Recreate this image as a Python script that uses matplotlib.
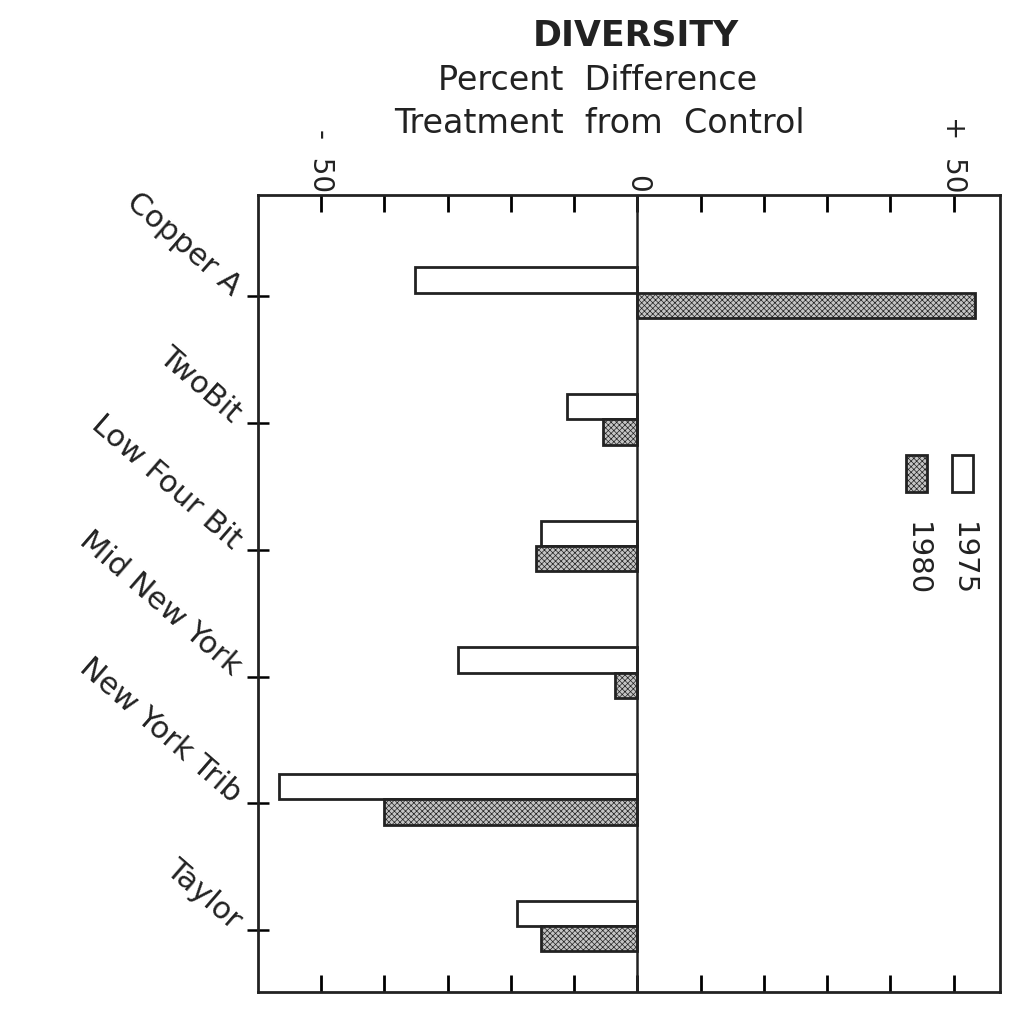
import matplotlib
matplotlib.use('Agg')
import matplotlib.pyplot as plt
from matplotlib.patches import Rectangle
import numpy as np

# values (percent difference, treatment vs control)
sites = ['Copper A', 'TwoBit', 'Low Four Bit', 'Mid New York', 'New York Trib', 'Taylor']
pct_1975 = [-35.2, -11.2, -15.3, -28.4, -56.7, -19.0]
pct_1980 = [53.4, -5.4, -16.1, -3.5, -40.1, -15.2]
years = ['1975', '1980']
tick_vals = [-50, 0, 50]
tick_text = ['-  50', '0', '+  50']

plt.rcParams['font.family'] = ['DejaVu Sans']
plt.rcParams['hatch.linewidth'] = 0.5
ink = '#222222'

fig = plt.figure(figsize=(10.13, 10.35), dpi=100)
ax = fig.add_axes([0.2547, 0.0415, 0.7323, 0.7701])

y = np.arange(len(sites))
h = 0.2
ax.barh(y - 0.13, pct_1975, height=h, facecolor='white', edgecolor=ink, linewidth=2)
ax.barh(y + 0.07, pct_1980, height=h, facecolor='#c4c4c4', edgecolor=ink,
        linewidth=2, hatch='xxxxxx')

ax.axvline(0, color=ink, linewidth=1.8)
ax.set_xlim(-60, 57.3)
ax.set_ylim(len(sites) - 0.51, -0.8)

# x ticks: every 10 top and bottom, labels only at top
ax.set_xticks(np.arange(-50, 51, 10))
ax.set_xticklabels([])
ax.tick_params(axis='x', which='both', direction='in', length=12, width=2,
               top=True, bottom=True, labeltop=False, labelbottom=False)
for v, t in zip(tick_vals, tick_text):
    ax.text(v, 1.003, t, transform=ax.get_xaxis_transform(), rotation=270,
            ha='center', va='bottom', fontsize=20, color=ink)

ax.set_yticks(y)
ax.set_yticklabels([])
ax.tick_params(axis='y', direction='inout', length=16, width=1.8, left=True, right=False)
for yi, s in zip(y, sites):
    ax.text(-64.2, yi, s, rotation=-41, rotation_mode='anchor',
            ha='right', va='baseline', fontsize=22, color=ink)

for sp in ax.spines.values():
    sp.set_linewidth(2)
    sp.set_color(ink)

# rotated legend drawn by hand
leg_x = [0.936, 0.874]
for lx, yr, fc, hat in zip(leg_x, years, ['white', '#c4c4c4'], [None, 'xxxxxx']):
    ax.add_patch(Rectangle((lx, 0.627), 0.028, 0.047, transform=ax.transAxes,
                           facecolor=fc, edgecolor=ink, linewidth=2, hatch=hat))
    ax.text(lx + 0.014, 0.59, yr, transform=ax.transAxes, rotation=270,
            ha='center', va='top', fontsize=21, color=ink)

fig.text(0.628, 0.966, 'DIVERSITY', ha='center', va='center', fontsize=25,
         fontweight='semibold', color=ink)
fig.text(0.59, 0.922, 'Percent  Difference', ha='center', va='center', fontsize=24,
         color=ink)
fig.text(0.592, 0.881, 'Treatment  from  Control', ha='center', va='center', fontsize=24,
         color=ink)

fig.savefig('out.png', dpi=100)
